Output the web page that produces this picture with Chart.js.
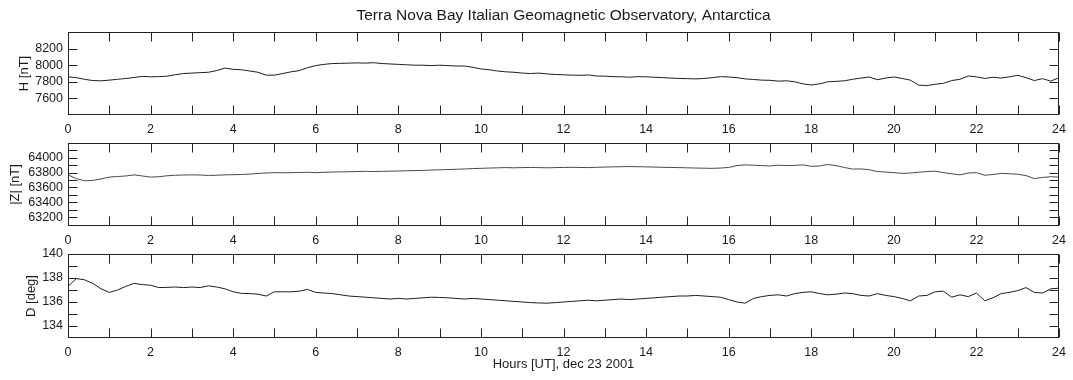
<!DOCTYPE html>
<html><head><meta charset="utf-8">
<script src="https://cdn.jsdelivr.net/npm/chart.js@4/dist/chart.umd.min.js"></script>
<style>
html,body{margin:0;padding:0;background:#fff;}
#wrap{position:relative;width:1073px;height:380px;overflow:hidden;background:#fff;}
canvas{position:absolute;left:0;}
</style></head><body>
<div id="wrap">
<canvas id="c1" width="1073" height="140" style="top:0px"></canvas>
<canvas id="c2" width="1073" height="120" style="top:130px"></canvas>
<canvas id="c3" width="1073" height="140" style="top:240px"></canvas>
</div>
<script>
// ---- data ----
const hours = [
 0,0.2,0.4,0.6,0.8, 1,1.2,1.4,1.6,1.8, 2,2.2,2.4,2.6,2.8, 3,3.2,3.4,3.6,3.8,
 4,4.2,4.4,4.6,4.8, 5,5.2,5.4,5.6,5.8, 6,6.2,6.4,6.6,6.8, 7,7.2,7.4,7.6,7.8,
 8,8.2,8.4,8.6,8.8, 9,9.2,9.4,9.6,9.8, 10,10.2,10.4,10.6,10.8, 11,11.2,11.4,11.6,11.8,
 12,12.2,12.4,12.6,12.8, 13,13.2,13.4,13.6,13.8, 14,14.2,14.4,14.6,14.8, 15,15.2,15.4,15.6,15.8,
 16,16.2,16.4,16.6,16.8, 17,17.2,17.4,17.6,17.8, 18,18.2,18.4,18.6,18.8, 19,19.2,19.4,19.6,19.8,
 20,20.2,20.4,20.6,20.8, 21,21.2,21.4,21.6,21.8, 22,22.2,22.4,22.6,22.8, 23,23.2,23.4,23.6,23.8,
 24];

const hValues = [
 7860,7850,7830,7815,7812, 7820,7830,7840,7852,7865, 7860,7862,7868,7885,7900, 7905,7910,7915,7935,7965,
 7950,7945,7930,7915,7880, 7880,7900,7920,7935,7970, 7995,8010,8020,8022,8025, 8028,8025,8030,8020,8015,
 8010,8005,8000,8000,7995, 8000,7995,7990,7990,7975, 7955,7945,7930,7920,7915, 7905,7900,7905,7895,7888,
 7885,7880,7878,7882,7870, 7868,7862,7860,7855,7862, 7860,7855,7850,7845,7840, 7838,7835,7840,7850,7862,
 7858,7850,7835,7828,7820, 7818,7808,7812,7800,7775, 7762,7775,7800,7805,7812, 7830,7845,7858,7825,7845,
 7858,7840,7820,7760,7755, 7770,7782,7815,7830,7870, 7860,7840,7855,7845,7860, 7878,7850,7815,7838,7808,
 7850];

const zValues = [
 63770,63720,63690,63695,63715, 63740,63748,63755,63770,63755, 63740,63745,63758,63765,63768, 63770,63768,63762,63765,63770,
 63772,63775,63780,63790,63795, 63800,63798,63800,63802,63805, 63800,63805,63808,63810,63812, 63815,63818,63815,63818,63820,
 63822,63825,63828,63830,63835, 63838,63842,63845,63850,63855, 63858,63862,63865,63868,63865, 63868,63870,63868,63865,63868,
 63870,63872,63870,63868,63872, 63875,63878,63880,63882,63880, 63878,63875,63872,63870,63868, 63865,63862,63860,63858,63862,
 63870,63895,63905,63900,63895, 63890,63900,63895,63898,63905, 63885,63890,63910,63895,63870, 63848,63850,63840,63815,63808,
 63800,63790,63795,63805,63815, 63820,63800,63785,63770,63795, 63800,63765,63775,63790,63785, 63778,63760,63720,63735,63745,
 63740];

const dValues = [
 137.3,137.95,137.85,137.55,137.1, 136.8,137.0,137.3,137.55,137.45, 137.4,137.2,137.22,137.25,137.2, 137.25,137.2,137.35,137.25,137.1,
 136.85,136.72,136.7,136.65,136.5, 136.85,136.85,136.85,136.9,137.05, 136.8,136.75,136.7,136.6,136.5, 136.45,136.4,136.35,136.3,136.25,
 136.3,136.25,136.3,136.35,136.4, 136.38,136.35,136.3,136.25,136.3, 136.25,136.2,136.15,136.1,136.05, 136.0,135.95,135.92,135.9,135.95,
 136.0,136.05,136.1,136.15,136.1, 136.15,136.2,136.25,136.2,136.25, 136.3,136.35,136.4,136.45,136.5, 136.5,136.55,136.5,136.45,136.4,
 136.2,136.0,135.9,136.3,136.45, 136.55,136.6,136.5,136.7,136.8, 136.85,136.7,136.6,136.65,136.75, 136.7,136.55,136.5,136.7,136.55,
 136.45,136.3,136.1,136.5,136.55, 136.85,136.9,136.4,136.6,136.45, 136.75,136.1,136.35,136.7,136.8, 136.95,137.2,136.8,136.75,137.1,
 137.15];

const hourMarks  = [0,1,2,3,4,5,6,7,8,9,10,11,12,13,14,15,16,17,18,19,20,21,22,23,24];
const hourLabels = [0,2,4,6,8,10,12,14,16,18,20,22,24];
const hTickMarks  = [7600,7800,8000,8200];
const hTickLabels = [7600,7800,8000,8200];
const zTickMarks  = [63100,63200,63300,63400,63500,63600,63700,63800,63900,64000,64100,64200];
const zTickLabels = [63200,63400,63600,63800,64000];
const dTickMarks  = [134,135,136,137,138,139,140];
const dTickLabels = [134,136,138,140];

const titleText  = 'Terra Nova Bay Italian Geomagnetic Observatory, Antarctica';
const xTitleText = 'Hours [UT], dec 23 2001';

// ---- drawing ----
const FAMILY = '"Liberation Sans", Arial, Helvetica, sans-serif';
const TXT = '#1a1a1a';
const tickFont = {family: FAMILY, size: 12.5, weight: 'normal'};
const labelFont = {family: FAMILY, size: 13, weight: 'normal'};

const boxTicks = {
  id: 'boxTicks',
  afterDatasetsDraw(chart, args, opts) {
    const {ctx, chartArea: a, scales: {x, y}} = chart;
    const L = 9;
    ctx.save();
    ctx.strokeStyle = '#222';
    ctx.lineWidth = 1;
    ctx.beginPath();
    const left = Math.round(a.left) + 0.5, right = Math.round(a.right) - 0.5;
    const top = Math.round(a.top) + 0.5, bottom = Math.round(a.bottom) - 0.5;
    opts.xMarks.forEach(v => {
      const px = Math.round(x.getPixelForValue(v)) + 0.5;
      ctx.moveTo(px, top); ctx.lineTo(px, top + L);
      ctx.moveTo(px, bottom); ctx.lineTo(px, bottom - L);
    });
    opts.yMarks.forEach(v => {
      const py = Math.round(y.getPixelForValue(v)) + 0.5;
      ctx.moveTo(left, py); ctx.lineTo(left + L, py);
      ctx.moveTo(right, py); ctx.lineTo(right - L, py);
    });
    ctx.stroke();
    ctx.strokeRect(left, top, right - left, bottom - top);
    ctx.restore();
  }
};

function makePanel(id, values, cfg) {
  return new Chart(document.getElementById(id), {
    type: 'line',
    data: {datasets: [{
      data: hours.map((h, i) => ({x: h, y: values[i]})),
      borderColor: cfg.color, borderWidth: 1, pointRadius: 0, tension: 0, fill: false
    }]},
    options: {
      responsive: false, animation: false, devicePixelRatio: 1,
      layout: {padding: {top: cfg.padTop, right: 11, left: 0, bottom: 0}},
      plugins: {
        legend: {display: false},
        tooltip: {enabled: false},
        title: cfg.title ? {
          display: true, text: cfg.title, fullSize: false, color: TXT,
          font: {family: FAMILY, size: 15.5, weight: 'normal'},
          padding: {top: 6, bottom: 7.4}
        } : {display: false},
        boxTicks: {xMarks: hourMarks, yMarks: cfg.yMarks}
      },
      scales: {
        x: {
          type: 'linear', min: 0, max: 24,
          grid: {display: false, drawTicks: false, tickLength: 0}, border: {display: false},
          afterBuildTicks: s => { s.ticks = hourLabels.map(v => ({value: v})); },
          ticks: {autoSkip: false, maxRotation: 0, padding: 7, font: tickFont, color: TXT,
                  callback: v => String(v)},
          afterFit: s => { s.height = cfg.xHeight; },
          title: cfg.xTitle ? {display: true, text: cfg.xTitle, color: TXT, font: labelFont,
                               padding: {top: 0, bottom: 8}} : {display: false}
        },
        y: {
          type: 'linear', min: cfg.min, max: cfg.max,
          grid: {display: false, drawTicks: false, tickLength: 0}, border: {display: false},
          afterBuildTicks: s => { s.ticks = cfg.yMarks.map(v => ({value: v})); },
          ticks: {autoSkip: false, padding: 5, font: tickFont, color: TXT,
                  callback: v => cfg.yLabels.includes(v) ? String(v) : ''},
          afterFit: s => { s.width = 68; },
          title: {display: true, text: cfg.yTitle, color: TXT, font: labelFont,
                  padding: {top: cfg.yTitlePad, bottom: 0}}
        }
      }
    },
    plugins: [boxTicks]
  });
}

makePanel('c1', hValues, {title: titleText, padTop: 0, xHeight: 25, min: 7400, max: 8400,
  yMarks: hTickMarks, yLabels: hTickLabels, yTitle: 'H [nT]', yTitlePad: 17, color: '#1e1e1e'});
makePanel('c2', zValues, {padTop: 13, xHeight: 24, min: 63080, max: 64200,
  yMarks: zTickMarks, yLabels: zTickLabels, yTitle: '|Z| [nT]', yTitlePad: 8, color: '#4a4a4a'});
makePanel('c3', dValues, {padTop: 14, xHeight: 42, min: 133, max: 140, xTitle: xTitleText,
  yMarks: dTickMarks, yLabels: dTickLabels, yTitle: 'D [deg]', yTitlePad: 24, color: '#1e1e1e'});
</script>
</body></html>
